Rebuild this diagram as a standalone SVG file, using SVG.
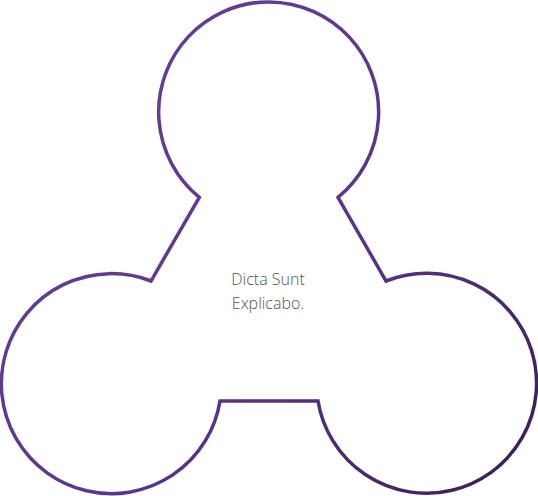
<svg xmlns="http://www.w3.org/2000/svg" width="538" height="496" viewBox="0 0 538 496">
  <defs>
    <linearGradient id="g" gradientUnits="userSpaceOnUse" x1="120" y1="120" x2="520" y2="480">
      <stop offset="0" stop-color="#633d93"/>
      <stop offset="0.45" stop-color="#5a3689"/>
      <stop offset="1" stop-color="#3a2053"/>
    </linearGradient>
  </defs>
  <style>
    .shape { fill: #ffffff; stroke: url(#g); stroke-width: 3.5; stroke-linejoin: miter; }
    .label { font-family: "Open Sans", "Liberation Sans", Arial, sans-serif; font-weight: 300; font-size: 16px; fill: #555555; text-anchor: middle; }
  </style>
  <rect width="538" height="496" fill="#ffffff"/>
  <g id="node-shape">
    <path class="shape" d="M 199.3 197.3 A 110 110 0 1 1 338 197.3 L 386 281 A 110 110 0 1 1 318 401 L 220 401 A 110 110 0 1 1 151 281 Z"/>
  </g>
  <g id="node-label">
    <text class="label" x="268" y="285">Dicta Sunt</text>
    <text class="label" x="268" y="309">Explicabo.</text>
  </g>
  <g id="connectors"></g>
</svg>
